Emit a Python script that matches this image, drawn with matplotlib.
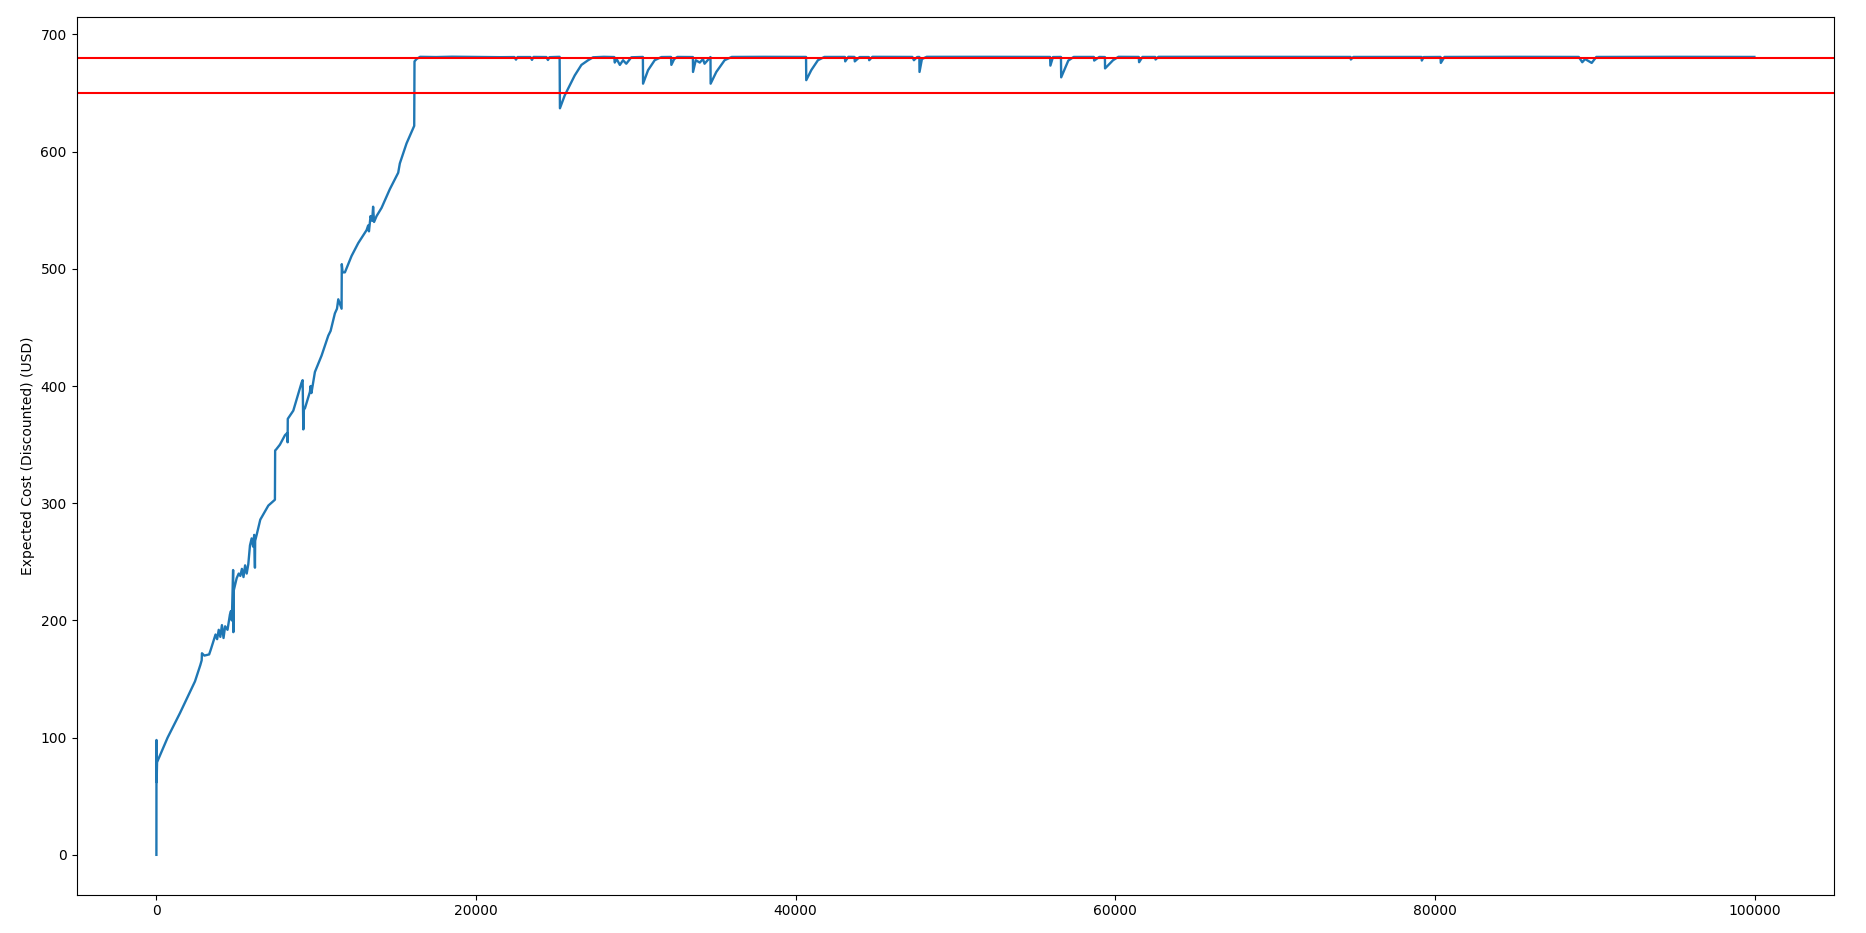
import matplotlib

matplotlib.use("Agg")
import matplotlib.pyplot as plt

# vertices of the expected-cost trace
steps_rise = [0, 5, 15, 40, 700, 1476, 2000, 2414, 2750, 2833, 2850, 3000, 3300,
              3400, 3564, 3700, 3800, 3900, 4000, 4100, 4200, 4300, 4450, 4600,
              4665, 4720, 4800, 4815, 4830, 5021, 5150, 5250, 5350, 5450, 5550,
              5650, 5750, 5855, 5960, 6050, 6120, 6166, 6180, 6272, 6500, 7003,
              7416, 7430, 7500, 7729, 8042, 8190, 8210, 8220, 8566, 9086, 9150,
              9192, 9230, 9294, 9605, 9650, 9700, 9918, 10336, 10755, 10900,
              11168, 11300, 11380, 11587, 11600, 11650, 11795, 12212, 12631,
              13150, 13250, 13300, 13400, 13500, 13560, 13620, 13776, 14088,
              14607, 15130, 15233, 15651, 16132, 16150, 16277]
cost_rise = [0, 98, 62, 79, 100, 121, 136, 148, 162, 166, 172, 170, 171,
             175, 182, 188, 184, 192, 186, 196, 185, 195, 192, 205,
             208, 200, 243, 190, 225, 236, 240, 238, 244, 237, 247,
             240, 248, 264, 270, 263, 273, 245, 268, 273, 286, 298,
             303, 345, 346, 350, 358, 360, 352, 372, 379, 403, 405,
             363, 380, 381, 395, 400, 394, 412, 426, 443, 447,
             462, 466, 474, 466, 504, 497, 497, 511, 522,
             533, 537, 532, 545, 541, 553, 540, 545, 552,
             568, 582, 590, 607, 622, 677, 679]

steps_plateau = [16500, 17500, 18500, 20000, 21500, 22400, 22500, 22600, 23400, 23500,
                 23600, 24400, 24500, 24600, 25230, 25250, 25550, 26175, 26594, 27013,
                 27326, 28000, 28650, 28680, 28800, 29000, 29200, 29400, 29720, 30440,
                 30452, 30764, 31180, 31600, 32200, 32222, 32400, 32600, 33570, 33578,
                 33750, 34000, 34200, 34300, 34670, 34680, 35035, 35554, 36000, 38000,
                 40650, 40663, 40976, 41393, 41800, 43080, 43100, 43300, 43680, 43700,
                 44000, 44580, 44600, 44800, 47300, 47400, 47600, 47740, 47750, 47900,
                 48200, 52000, 55920, 55940, 56100, 56600, 56615, 57060, 57400, 58660,
                 58680, 59000, 59350, 59360, 59860, 60200, 61470, 61490, 61700, 62500,
                 62520, 62700, 68000, 74720, 74740, 74900, 79160, 79180, 79300, 80350,
                 80370, 80600, 85000, 89000, 89220, 89400, 89810, 90100, 95000, 99990]
cost_plateau = [680.9, 680.7, 681.0, 680.8, 680.6, 680.7, 678.5, 680.7, 680.7, 678.3,
                680.8, 680.7, 678.2, 680.6, 680.9, 637, 648, 665, 674, 678,
                680.5, 680.9, 680.7, 676, 679, 674, 678, 675, 680.5, 680.8,
                658, 669.5, 678, 680.7, 680.8, 674, 679, 680.8, 680.7, 668,
                678, 676, 679, 675, 680.7, 658, 668, 678, 680.8, 680.9,
                680.8, 661, 669.5, 678, 680.8, 680.8, 677, 680.9, 680.8, 677,
                680.7, 680.7, 678, 680.9, 680.8, 678, 680.7, 680.8, 668, 679,
                680.9, 680.9, 680.8, 673.4, 680.7, 680.8, 663.4, 677.7, 680.8, 680.8,
                677.7, 680.8, 680.7, 671, 678, 680.9, 680.8, 676.3, 680.8, 680.8,
                678.6, 680.9, 680.9, 680.8, 678.6, 680.8, 680.8, 677.7, 680.7, 680.8,
                675.7, 680.8, 680.9, 680.8, 676.3, 679, 675.7, 680.8, 680.9, 680.8]

upper_bound = 680
lower_bound = 650

steps = steps_rise + steps_plateau
cost = cost_rise + cost_plateau

fig, ax = plt.subplots(figsize=(18.66, 9.33), dpi=100)
ax.plot(steps, cost, color="tab:blue", lw=1.7)
ax.axhline(upper_bound, color="r", lw=1.5)
ax.axhline(lower_bound, color="r", lw=1.5)
ax.set_ylabel("Expected Cost (Discounted) (USD)")

fig.subplots_adjust(left=0.041, right=0.983, top=0.982, bottom=0.041)
fig.savefig("out.png", dpi=100)
plt.close(fig)
